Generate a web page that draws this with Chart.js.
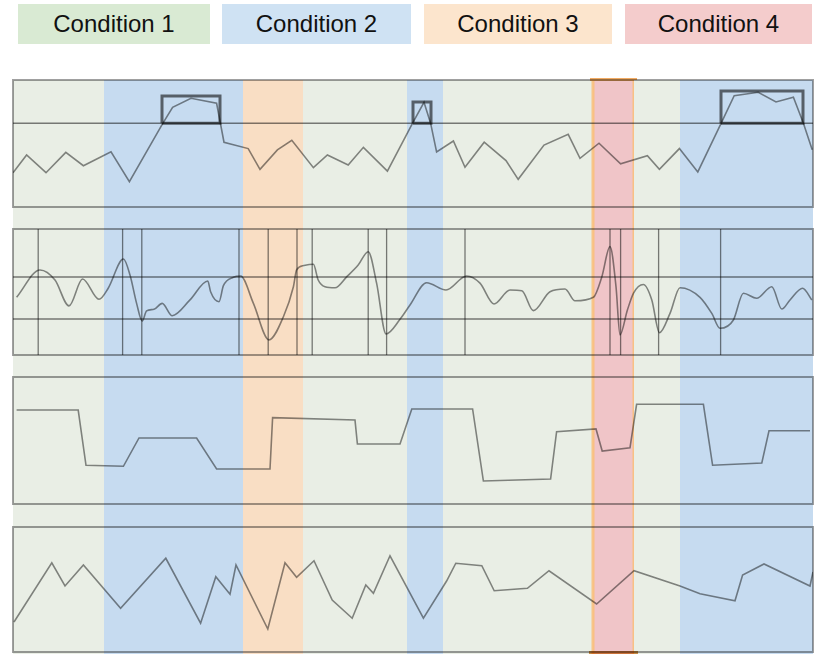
<!DOCTYPE html>
<html>
<head>
<meta charset="utf-8">
<script src="https://cdn.jsdelivr.net/npm/chart.js@4.4.1/dist/chart.umd.min.js"></script>
<style>
  body { margin: 0; background: #fff; width: 819px; height: 654px; position: relative; overflow: hidden; }
  .key { position: absolute; top: 4px; height: 40px; line-height: 40px; text-align: center;
         font-family: "Liberation Sans", Arial, sans-serif; font-size: 24px; color: #111; }
  canvas { position: absolute; left: 0; }
</style>
</head>
<body>
<div id="legend"></div>
<canvas id="c1" width="819" height="140" style="top:78px"></canvas>
<canvas id="c2" width="819" height="148" style="top:218px"></canvas>
<canvas id="c3" width="819" height="150" style="top:366px"></canvas>
<canvas id="c4" width="819" height="138" style="top:516px"></canvas>
<script>
// conditions + time bands (seconds)
var conditions = ["Condition 1", "Condition 2", "Condition 3", "Condition 4"];
var legendColors = ["#d9ead3", "#cfe2f3", "#fce5cd", "#f4cccc"];
var bandColors = ["#e9eee5", "#c6dbf0", "#f9dec4", "#f0c5c8"];
var bandStart = [0, 22.75, 57.5, 72.5, 98.5, 107.5, 145, 155.25, 166.75];
var bandEnd = [22.75, 57.5, 72.5, 98.5, 107.5, 145, 155.25, 166.75, 200];
var bandCond = [0, 1, 2, 0, 1, 0, 3, 0, 1];

// panel 1 : signal with threshold and peak windows
var p1Time = [0, 3.4, 8.25, 13.2, 17.6, 24.5, 29.1, 37.3, 39.9, 44.5, 50.9, 52.75, 58.8, 61.75, 66.1, 69.7, 75.1, 78.6, 83.8, 87.6, 93.6, 99.9, 102.75, 104.4, 105.9, 110.1, 113, 117.8, 123.25, 126.3, 132.75, 138.8, 141.75, 146.5, 151.9, 158.6, 161.6, 166.6, 171.2, 176.9, 180.3, 186.3, 190.75, 195.1, 197.6, 199.8];
var p1Value = [27, 41, 27, 43, 32.5, 43.5, 20, 65, 78.5, 85.6, 81.7, 51, 46, 29.7, 45, 52.5, 31, 41, 33, 47, 28.3, 66, 82.4, 66, 43.3, 52, 31.3, 51, 36.5, 21.8, 48.8, 57.2, 38.3, 50.2, 34, 40.4, 29.7, 46, 27.6, 65, 87.6, 90.3, 82.7, 86.4, 66, 45];
var p1Threshold = 66;
var peakStart = [37.25, 100, 177];
var peakEnd = [51.75, 104.5, 197.5];
var peakTop = [87.4, 82.7, 91.3];

// panel 2 : smooth signal, two levels, event markers
var p2Time = [0.9, 6.75, 10.5, 14, 17.4, 21.5, 23.8, 27.6, 29.25, 30.9, 32.3, 33.4, 35.25, 37.3, 39.8, 44.25, 48.7, 49.4, 51.5, 52.6, 55.1, 56.9, 60.1, 64, 67.6, 70.1, 70.9, 72.75, 75.1, 76.3, 78, 80.5, 83.4, 86.3, 88.8, 90.9, 93.25, 96.75, 99.25, 103.4, 108.25, 113.4, 116.75, 120.25, 124.25, 127.2, 130.1, 134.25, 138, 140.5, 145.1, 147.2, 149.25, 150.75, 151.75, 153.6, 155.1, 157.6, 159.7, 161.6, 164.25, 166.75, 171.75, 174.7, 176.75, 180.1, 182.6, 185.9, 189.7, 192.2, 194.25, 197.4, 199.7];
var p2Value = [45.8, 67.5, 59.5, 39, 60.3, 44.2, 53, 76.2, 63.5, 41, 27, 35, 36.3, 41, 31.2, 43.7, 58.7, 50.2, 42.3, 55, 61.7, 62.7, 41, 12, 30.4, 54.2, 67.5, 71, 72, 59.5, 54.2, 53.4, 62, 71.4, 82, 57, 16.7, 28.3, 39.7, 57.4, 51.6, 62.7, 57, 40.5, 51.6, 51, 35.2, 50.2, 52.4, 43, 45.8, 62, 86, 54.2, 16, 35.7, 49, 56, 43.7, 17.7, 33, 53.4, 45.8, 33, 21.2, 27.8, 49, 45, 54.2, 36.5, 43.7, 53, 43.7];
var p2Levels = [61.9, 28.6];
var p2Markers = [6.3, 27.4, 32.2, 56.5, 63.8, 71, 74.8, 88.8, 93.4, 113, 149.25, 151.9, 161.4, 176.9];

// panel 3 : stepped state
var p3Time = [0.9, 16.3, 18.25, 27.6, 31.5, 45.9, 50.9, 64.25, 64.9, 85.5, 86.1, 96.75, 99.7, 114.9, 117.6, 134.4, 135.9, 145.75, 147.3, 154.25, 155.9, 172.6, 174.9, 187.2, 189, 199.25];
var p3Value = [74, 74, 30.5, 29.7, 52, 52, 27.6, 27.6, 68, 66.1, 47.2, 47.2, 74.8, 74.8, 18.1, 19.7, 56.9, 59.1, 41.7, 44.3, 78.5, 78.5, 30.5, 32.3, 57.7, 57.7];

// panel 4 : jagged signal
var p4Time = [0.25, 9.7, 13, 17.6, 26.9, 38.2, 46.9, 50.7, 54.25, 55.75, 63.7, 68, 70.9, 75.25, 79.8, 84.8, 88.2, 90.1, 94.25, 102.6, 108.4, 110.7, 117.2, 120.3, 128.6, 134, 145.9, 155.25, 166.75, 171.75, 180.5, 182.4, 187.75, 199.25, 200];
var p4Value = [24, 71.4, 52.8, 69.6, 35, 75, 23, 60.2, 46.2, 69.6, 18.4, 71.4, 59.8, 73, 41.6, 27, 53.6, 47, 77, 27, 56.8, 71, 69, 49, 51, 65, 38.4, 65, 52.8, 46.6, 41, 61.6, 70.4, 52.8, 64];

// legend boxes
var legendLeft = [18, 222, 424, 625];
var legendWidth = [192, 189, 188, 187];
var legendBox = document.getElementById("legend");
conditions.forEach(function (c, i) {
  var d = document.createElement("div");
  d.className = "key";
  d.style.left = legendLeft[i] + "px";
  d.style.width = legendWidth[i] + "px";
  d.style.background = legendColors[i];
  d.textContent = c;
  legendBox.appendChild(d);
});

function zip(xs, ys) {
  return xs.map(function (x, i) { return { x: x, y: ys[i] }; });
}

// lines are multiplied onto the bands, so they pick up the band tint
var lineColor = "#8a8a8a";
var guideColor = "#808080";

var bandsPlugin = {
  id: "bands",
  beforeDraw: function (chart) {
    var ctx = chart.ctx, x = chart.scales.x, area = chart.chartArea;
    var o = chart.options.plugins.bands;
    var top = o.fromArea ? area.top : 0;
    var bottom = chart.height;
    ctx.save();
    for (var i = 0; i < bandStart.length; i++) {
      var x0 = x.getPixelForValue(bandStart[i]);
      var x1 = x.getPixelForValue(bandEnd[i]);
      ctx.fillStyle = bandColors[bandCond[i]];
      ctx.fillRect(x0, top, x1 - x0, bottom - top);
      if (bandCond[i] === 3) {
        ctx.strokeStyle = "rgba(250,190,120,0.85)";
        ctx.lineWidth = 3;
        ctx.beginPath();
        ctx.moveTo(x0, top); ctx.lineTo(x0, bottom);
        ctx.moveTo(x1, top); ctx.lineTo(x1, bottom);
        ctx.stroke();
        if (o.fromArea) {
          ctx.strokeStyle = "rgba(240,165,90,0.95)";
          ctx.lineWidth = 3;
          ctx.beginPath(); ctx.moveTo(x0 - 3, top - 0.5); ctx.lineTo(x1 + 3, top - 0.5); ctx.stroke();
        }
      }
    }
    ctx.restore();
  },
  beforeDatasetsDraw: function (chart) {
    chart.ctx.save();
    chart.ctx.globalCompositeOperation = "multiply";
  },
  afterDatasetsDraw: function (chart) {
    chart.ctx.restore();
  },
  afterDraw: function (chart) {
    var ctx = chart.ctx, a = chart.chartArea, x = chart.scales.x;
    ctx.save();
    ctx.globalCompositeOperation = "multiply";
    ctx.strokeStyle = "#a0a0a0";
    ctx.lineWidth = 2;
    ctx.strokeRect(a.left, a.top, a.right - a.left, a.bottom - a.top);
    if (chart.options.plugins.bands.capBottom) {
      for (var i = 0; i < bandStart.length; i++) {
        if (bandCond[i] !== 3) continue;
        var x0 = x.getPixelForValue(bandStart[i]);
        var x1 = x.getPixelForValue(bandEnd[i]);
        ctx.fillStyle = "#d8944a";
        ctx.fillRect(x0 - 4, chart.height - 3, x1 - x0 + 8, 3);
      }
    }
    ctx.restore();
  }
};

function line(data, opts) {
  var ds = {
    data: data,
    borderColor: lineColor,
    borderWidth: 1.6,
    pointRadius: 0,
    fill: false,
    tension: 0,
    spanGaps: false
  };
  for (var k in opts) ds[k] = opts[k];
  return ds;
}

function makePanel(id, datasets, pad, bandOpts) {
  return new Chart(document.getElementById(id), {
    type: "line",
    data: { datasets: datasets },
    plugins: [bandsPlugin],
    options: {
      responsive: false,
      animation: false,
      layout: { padding: pad },
      plugins: { legend: { display: false }, tooltip: { enabled: false }, bands: bandOpts },
      scales: {
        x: { type: "linear", min: 0, max: 200, display: false },
        y: { min: 0, max: 100, display: false }
      }
    }
  });
}

// panel 1
var boxPts = [];
peakStart.forEach(function (s, i) {
  boxPts.push({ x: s, y: p1Threshold }, { x: s, y: peakTop[i] }, { x: peakEnd[i], y: peakTop[i] },
              { x: peakEnd[i], y: p1Threshold }, { x: s, y: p1Threshold }, { x: s, y: null });
});
makePanel("c1", [
  line(boxPts, { borderColor: "#6e6e6e", borderWidth: 3 }),
  line(zip(p1Time, p1Value), {}),
  line([{ x: 0, y: p1Threshold }, { x: 200, y: p1Threshold }], { borderColor: guideColor })
], { left: 13, right: 6, top: 2, bottom: 11 }, { fromArea: true });

// panel 2
var markerPts = [];
p2Markers.forEach(function (t) {
  markerPts.push({ x: t, y: 0 }, { x: t, y: 100 }, { x: t, y: null });
});
var levelPts = [];
p2Levels.forEach(function (v) {
  levelPts.push({ x: 0, y: v }, { x: 200, y: v }, { x: 200, y: null });
});
makePanel("c2", [
  line(zip(p2Time, p2Value), { cubicInterpolationMode: "monotone" }),
  line(markerPts, { borderColor: guideColor, borderWidth: 1.3 }),
  line(levelPts, { borderColor: guideColor })
], { left: 13, right: 6, top: 11, bottom: 11 }, {});

// panel 3
makePanel("c3", [
  line(zip(p3Time, p3Value), {})
], { left: 13, right: 6, top: 11, bottom: 12 }, {});

// panel 4
makePanel("c4", [
  line(zip(p4Time, p4Value), {})
], { left: 13, right: 6, top: 11, bottom: 2 }, { capBottom: true });
</script>
</body>
</html>
